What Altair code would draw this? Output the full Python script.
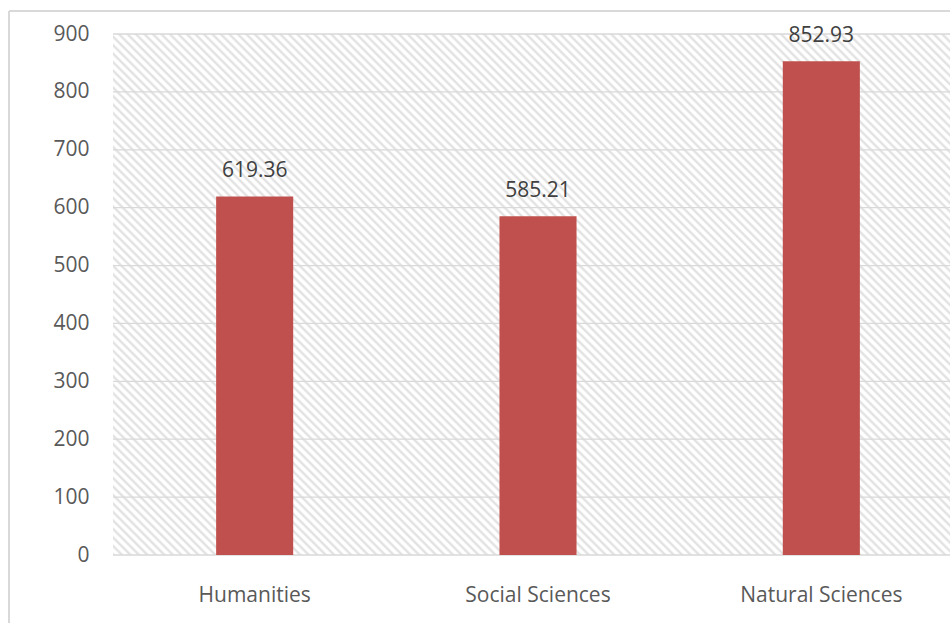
import altair as alt
import pandas as pd

categories = ["Humanities", "Social Sciences", "Natural Sciences"]
values = [619.36, 585.21, 852.93]
value_labels = ["619.36", "585.21", "852.93"]
y_ticks = [0, 100, 200, 300, 400, 500, 600, 700, 800, 900]

df = pd.DataFrame({"category": categories, "value": values, "label": value_labels})
grid_df = pd.DataFrame({"value": y_ticks})

W, H = 837, 521
FONT = "Open Sans"
FS = 21

# hatch fill for the plot background (45° stripes via a multi-stop gradient)
r = H / W
k = (1 + r) / (1 + r * r)
n_stripes = 160
stops = []
for i in range(n_stripes):
    t0 = i / n_stripes
    stops.append(alt.GradientStop(offset=t0, color="#e2e2e2"))
    stops.append(alt.GradientStop(offset=t0 + 0.15 / n_stripes, color="#e2e2e2"))
    stops.append(alt.GradientStop(offset=t0 + 0.4 / n_stripes, color="#ffffff"))
    stops.append(alt.GradientStop(offset=t0 + 0.75 / n_stripes, color="#ffffff"))
stops.append(alt.GradientStop(offset=1, color="#e2e2e2"))
hatch = alt.LinearGradient(gradient="linear", stops=stops,
                           x1=0, y1=1, x2=k, y2=1 - k * r)

y_scale = alt.Scale(domain=[0, 900], nice=False)
y_axis = alt.Axis(title=None, values=y_ticks, ticks=False, domain=False,
                  labelFont=FONT, labelFontSize=FS, labelColor="#595959",
                  labelPadding=24, grid=False)

x_enc = alt.X("category:N", sort=categories, title=None,
              scale=alt.Scale(range=[0, 850], paddingInner=0.728, paddingOuter=0.364),
              axis=alt.Axis(title=None, labelAngle=0, ticks=False, domain=False,
                            labelFont=FONT, labelFontSize=FS, labelColor="#595959",
                            labelPadding=29, grid=False))

frame_df = pd.DataFrame({"a": [0]})

background = alt.Chart(frame_df).mark_rect(fill=hatch, strokeWidth=0).encode(
    x=alt.value(0), x2=alt.value(W), y=alt.value(0), y2=alt.value(H))
grid = alt.Chart(grid_df).mark_rule(color="#d9d9d9", strokeWidth=1.3).encode(
    y=alt.Y("value:Q", scale=y_scale, axis=y_axis, title=None),
    x=alt.value(0), x2=alt.value(W))
bars = alt.Chart(df).mark_bar(color="#c0504d").encode(
    x=x_enc, y=alt.Y("value:Q", scale=y_scale, axis=y_axis, title=None))
labels = alt.Chart(df).mark_text(font=FONT, fontSize=FS, color="#404040",
                                 baseline="middle", dy=-25).encode(
    x=alt.X("category:N", sort=categories), y=alt.Y("value:Q"), text="label:N")

frame_left = alt.Chart(frame_df).mark_rule(color="#d9d9d9", strokeWidth=2).encode(
    x=alt.value(-104), y=alt.value(-23), y2=alt.value(620))
frame_top = alt.Chart(frame_df).mark_rule(color="#d9d9d9", strokeWidth=2).encode(
    x=alt.value(-104), x2=alt.value(900), y=alt.value(-23))

chart = alt.layer(background, grid, bars, labels, frame_left, frame_top).properties(
    width=W, height=H,
    autosize=alt.AutoSizeParams(type="none"),
    padding={"left": 113, "top": 34, "right": 0, "bottom": 68},
    background="#ffffff",
).configure_view(stroke="transparent")

chart.save("out.html", embed_options={"renderer": "svg", "actions": False})
